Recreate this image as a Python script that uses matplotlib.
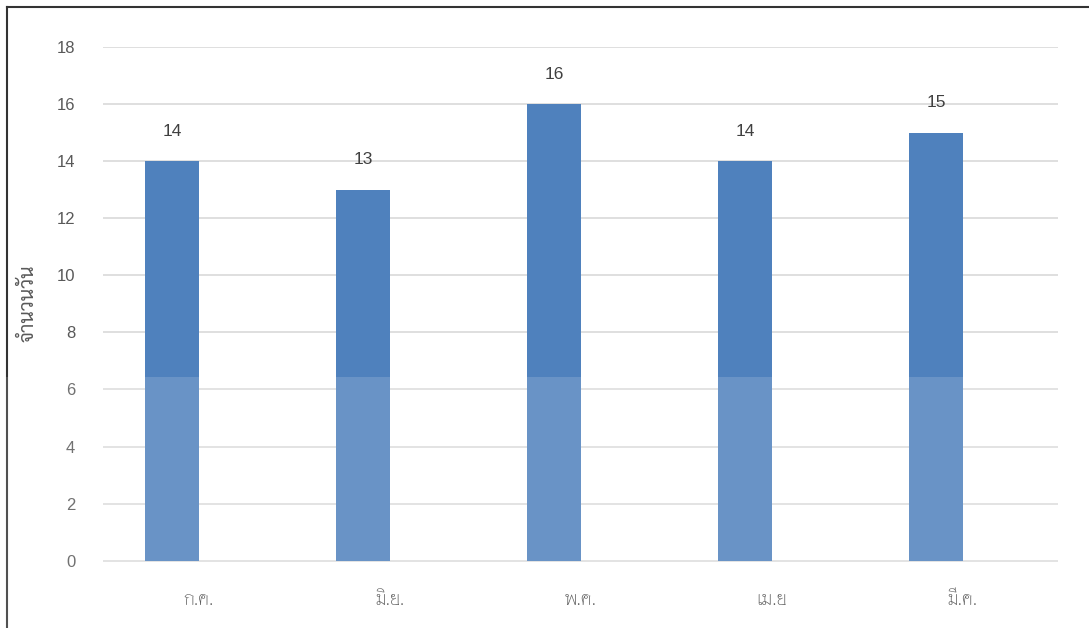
import matplotlib
matplotlib.use("Agg")
import matplotlib.pyplot as plt
from matplotlib.patches import Rectangle
from matplotlib.lines import Line2D

# ---- data ----
categories = ["ก.ค.", "มิ.ย.", "พ.ค.", "เม.ย", "มี.ค."]
values = [14, 13, 16, 14, 15]
y_ticks = [0, 2, 4, 6, 8, 10, 12, 14, 16, 18]
y_label = "จำนวนวัน"

plt.rcParams['font.family'] = ['Liberation Sans', 'DejaVu Sans']

W, H = 1089, 628
fig = plt.figure(figsize=(W / 100, H / 100), dpi=100)
ax = fig.add_axes([103 / W, 1 - 575 / H, (1058 - 103) / W, (575 - 47) / H])

x = list(range(len(categories)))
bw = 0.2775
# clustered layout: the bar occupies the left slot of each category
ax.bar(x, values, width=-bw, align="edge", color="#4f81bd", zorder=3)
for xi, v in zip(x, values):
    ax.annotate(str(v), (xi - bw / 2, v), xytext=(0, 16), textcoords="offset points",
                ha="center", va="bottom", fontsize=12.5, color="#404040")

ax.set_xlim(-0.5, len(categories) - 0.5)
ax.set_ylim(-0.5, 18)
ax.set_yticks(y_ticks)
ax.set_yticklabels([str(t) for t in y_ticks], fontsize=12, color="#595959")
ax.set_xticks(x)
ax.set_xticklabels(categories, fontsize=14.5, color="#404040",
                   family=["Thasadith", "DejaVu Sans"])
ax.tick_params(axis="both", length=0)
ax.tick_params(axis="y", pad=20)
ax.tick_params(axis="x", pad=11)
for s in ax.spines.values():
    s.set_visible(False)
ax.grid(axis="y", color="#d9d9d9", linewidth=1.2, zorder=0)
ax.set_axisbelow(True)
ax.set_ylabel(y_label, fontsize=14, color="#595959",
              family=["Sarabun", "Loma", "DejaVu Sans"])
ax.yaxis.set_label_coords((37 - 103) / 955, (575 - 303) / 528)

# watermark-like whitening of the lower part of the image
fig.patches.append(Rectangle((0, 0), 1, 1 - 377 / H, transform=fig.transFigure,
                             facecolor="white", alpha=0.15, edgecolor="none", zorder=10))

# frame lines (top and left)
fig.add_artist(Line2D([7 / W, 1], [1 - 7 / H, 1 - 7 / H], color="#333333", linewidth=1.5))
fig.add_artist(Line2D([7 / W, 7 / W], [0, 1 - 7 / H], color="#333333", linewidth=1.5))

fig.savefig("out.png", dpi=100)
